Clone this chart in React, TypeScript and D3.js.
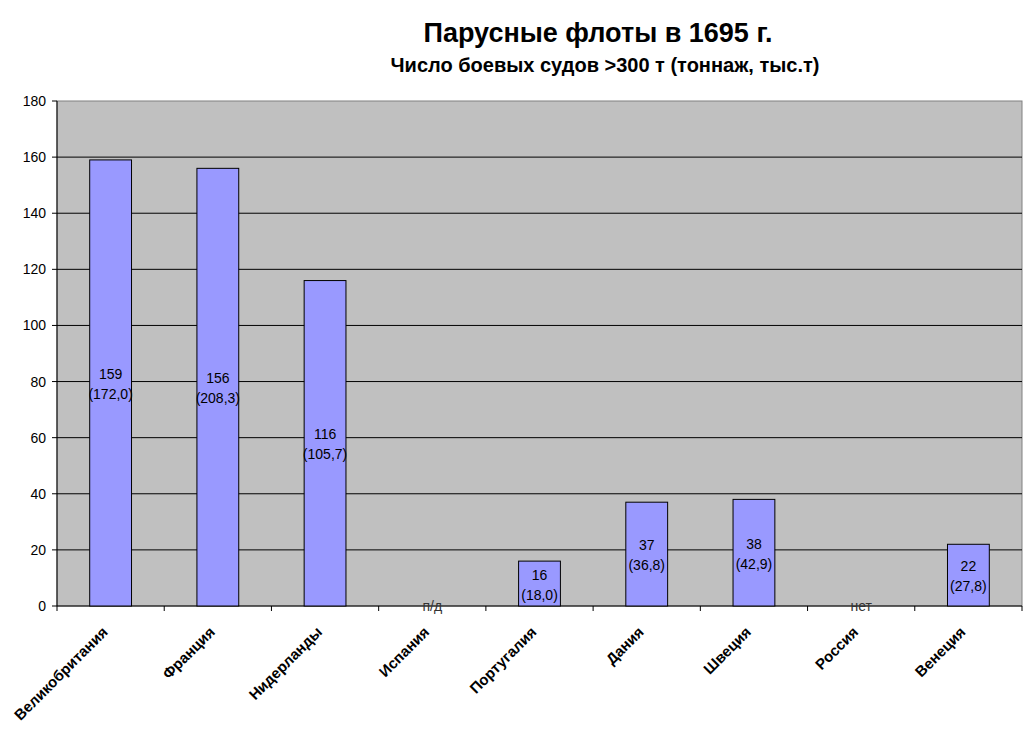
import React from "react";
import * as d3 from "d3";

const categories = ["Великобритания", "Франция", "Нидерланды", "Испания", "Португалия", "Дания", "Швеция", "Россия", "Венеция"];
const ships: (number | null)[] = [159, 156, 116, null, 16, 37, 38, null, 22];
const tonnage: (string | null)[] = ["172,0", "208,3", "105,7", null, "18,0", "36,8", "42,9", null, "27,8"];
const missingLabels: (string | null)[] = [null, null, null, "п/д", null, null, null, "нет", null];
const yTicks = [0, 20, 40, 60, 80, 100, 120, 140, 160, 180];

const W = 1024, H = 733;
const left = 57, right = 1022, top = 101, bottom = 606;
const FONT = "Liberation Sans, Arial, sans-serif";

export default function App() {
  const x = d3.scaleBand<string>().domain(categories).range([left, right]).paddingInner(0).paddingOuter(0);
  const y = d3.scaleLinear().domain([0, 180]).range([bottom, top]);
  const bw = x.bandwidth() * 0.39;
  return (
    <svg width={W} height={H} style={{ position: "absolute", left: 0, top: 0, background: "#fff" }} fontFamily={FONT}>
      <text x={598} y={42} textAnchor="middle" fontSize={27} fontWeight="bold">Парусные флоты в 1695 г.</text>
      <text x={605} y={72} textAnchor="middle" fontSize={20} fontWeight="bold">Число боевых судов &gt;300 т (тоннаж, тыс.т)</text>
      <rect x={left} y={top} width={right - left} height={bottom - top} fill="#c0c0c0" stroke="#808080" strokeWidth={1} />
      {yTicks.filter(t => t > 0 && t < 180).map(t => (
        <line key={t} x1={left} x2={right} y1={y(t)} y2={y(t)} stroke="#000" strokeWidth={1} />
      ))}
      <line x1={left} x2={left} y1={top} y2={bottom} stroke="#000" strokeWidth={1} />
      <line x1={left} x2={right} y1={bottom} y2={bottom} stroke="#000" strokeWidth={1} />
      {yTicks.map(t => (
        <g key={t}>
          <line x1={left - 5} x2={left} y1={y(t)} y2={y(t)} stroke="#000" />
          <text x={46} y={y(t) + 5} textAnchor="end" fontSize={14}>{t}</text>
        </g>
      ))}
      {categories.map((c, i) => {
        const x0 = x(c)!;
        return <line key={"t" + i} x1={x0} x2={x0} y1={bottom} y2={bottom + 5} stroke="#000" />;
      })}
      <line x1={right} x2={right} y1={bottom} y2={bottom + 5} stroke="#000" />
      {categories.map((c, i) => {
        const cx = x(c)! + x.bandwidth() / 2;
        const v = ships[i];
        if (v == null) {
          return <text key={c} x={cx} y={bottom + 5} textAnchor="middle" fontSize={14} fill="#333">{missingLabels[i]}</text>;
        }
        const yTop = y(v);
        const mid = (yTop + bottom) / 2;
        return (
          <g key={c}>
            <rect x={cx - bw / 2} y={yTop} width={bw} height={bottom - yTop} fill="#9999ff" stroke="#000" strokeWidth={1} />
            <text x={cx} y={mid - 4} textAnchor="middle" fontSize={14} fill="#000">{v}</text>
            <text x={cx} y={mid + 16} textAnchor="middle" fontSize={14} fill="#000">({tonnage[i]})</text>
          </g>
        );
      })}
      {categories.map(c => {
        const cx = x(c)! + x.bandwidth() / 2;
        return (
          <text key={"l" + c} transform={`translate(${cx - 2},${bottom + 27}) rotate(-45)`} textAnchor="end" fontSize={15} fontWeight="bold">{c}</text>
        );
      })}
    </svg>
  );
}
